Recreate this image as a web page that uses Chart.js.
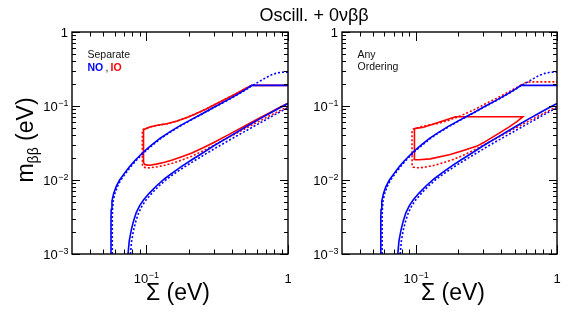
<!DOCTYPE html>
<html>
<head>
<meta charset="utf-8">
<script src="https://cdn.jsdelivr.net/npm/chart.js@4.4.0/dist/chart.umd.min.js"></script>
<style>
  body { margin: 0; background: #fff; width: 582px; height: 315px; position: relative; overflow: hidden; }
  canvas { position: absolute; top: 0; }
  #title { position: absolute; left: 214px; width: 200px; top: 5px; text-align: center;
           font: 18px "Liberation Sans", Arial, sans-serif; line-height: 20px; color: #000; }
</style>
</head>
<body>
<canvas id="left" width="291" height="315" style="left:0"></canvas>
<canvas id="right" width="291" height="315" style="left:291px"></canvas>
<div id="title">Oscill. + 0νββ</div>
<script>
// axis ticks (decades get a label 10^exp)
const xMajor = [0.1, 1];
const xMinor = [0.04, 0.05, 0.06, 0.07, 0.08, 0.09, 0.2, 0.3, 0.4, 0.5, 0.6, 0.7, 0.8, 0.9];
const yMajor = [0.001, 0.01, 0.1, 1];
const yMinor = [0.002, 0.003, 0.004, 0.005, 0.006, 0.007, 0.008, 0.009,
                0.02, 0.03, 0.04, 0.05, 0.06, 0.07, 0.08, 0.09,
                0.2, 0.3, 0.4, 0.5, 0.6, 0.7, 0.8, 0.9];

// NO, upper edge (solid / dotted)
const noUpSigma = [0.0565, 0.0565, 0.0567, 0.0574, 0.059, 0.0615, 0.065, 0.07, 0.076, 0.083, 0.091, 0.1, 0.11, 0.125, 0.145, 0.17, 0.2, 0.25, 0.3, 0.37, 0.45, 0.51, 0.556, 1.0];
const noUpMbb   = [0.001, 0.003, 0.004, 0.0052, 0.0066, 0.0082, 0.01, 0.0122, 0.015, 0.0182, 0.0218, 0.0258, 0.03, 0.0365, 0.044, 0.053, 0.063, 0.079, 0.096, 0.119, 0.147, 0.17, 0.19, 0.19];
const noUpDotSigma = [0.0577, 0.0577, 0.0579, 0.0586, 0.0602, 0.0628, 0.0663, 0.0715, 0.0776, 0.0847, 0.0928, 0.102, 0.112, 0.127, 0.147, 0.172, 0.202, 0.252, 0.3, 0.37, 0.45, 0.51, 0.556, 0.6, 0.65, 0.7, 0.76, 0.82, 0.88, 0.94, 1.0];
const noUpDotMbb   = [0.001, 0.003, 0.004, 0.0052, 0.0066, 0.0082, 0.01, 0.0122, 0.015, 0.0182, 0.0218, 0.0258, 0.03, 0.0365, 0.044, 0.053, 0.063, 0.079, 0.095, 0.118, 0.146, 0.168, 0.188, 0.204, 0.223, 0.242, 0.262, 0.276, 0.284, 0.287, 0.287];

// NO, lower edge (solid / dotted)
const noLoSigma = [0.0745, 0.076, 0.0785, 0.0815, 0.085, 0.09, 0.096, 0.105, 0.118, 0.135, 0.155, 0.18, 0.21, 0.25, 0.3, 0.37, 0.45, 0.55, 0.65, 0.75, 0.87, 1.0];
const noLoMbb   = [0.001, 0.0015, 0.0021, 0.0028, 0.0036, 0.0045, 0.0054, 0.0066, 0.0083, 0.0104, 0.0127, 0.0155, 0.0188, 0.0232, 0.029, 0.0368, 0.046, 0.0575, 0.069, 0.0805, 0.094, 0.108];
const noLoDotSigma = [0.0775, 0.079, 0.0815, 0.0847, 0.0885, 0.0937, 0.1, 0.1095, 0.123, 0.141, 0.162, 0.188, 0.22, 0.26, 0.31, 0.38, 0.46, 0.56, 0.66, 0.76, 0.88, 1.0];
const noLoDotMbb   = [0.001, 0.0015, 0.0021, 0.0028, 0.0036, 0.0045, 0.0054, 0.0066, 0.0083, 0.0104, 0.0126, 0.0152, 0.0183, 0.0222, 0.0272, 0.034, 0.0418, 0.0516, 0.0615, 0.0715, 0.0835, 0.095];

// IO, separate ordering: lower edge back to the corner, up the wall, then upper edge
const ioSigma = [1.0, 0.87, 0.75, 0.65, 0.55, 0.45, 0.37, 0.3, 0.25, 0.21, 0.18, 0.155, 0.135, 0.118, 0.106, 0.1, 0.0975, 0.096, 0.0958, 0.0957, 0.0957, 0.096, 0.0975, 0.1, 0.106, 0.12, 0.14, 0.165, 0.19, 0.22, 0.265, 0.32, 0.37, 0.44, 0.51, 0.556, 1.0];
const ioMbb   = [0.109, 0.0952, 0.082, 0.071, 0.0598, 0.0487, 0.0398, 0.0322, 0.027, 0.0232, 0.0207, 0.0188, 0.0174, 0.0164, 0.0158, 0.016, 0.0163, 0.0172, 0.02, 0.03, 0.044, 0.047, 0.0485, 0.0495, 0.052, 0.0548, 0.0575, 0.0625, 0.069, 0.0775, 0.091, 0.110, 0.126, 0.150, 0.175, 0.19, 0.19];
const ioDotSigma = [1.0, 0.87, 0.75, 0.65, 0.55, 0.45, 0.37, 0.3, 0.25, 0.21, 0.18, 0.155, 0.135, 0.118, 0.106, 0.099, 0.0955, 0.0942, 0.094, 0.094, 0.094, 0.0945, 0.096, 0.0975, 0.1, 0.106, 0.12, 0.14, 0.165, 0.19, 0.22, 0.265, 0.32, 0.37, 0.44, 0.51, 0.556];
const ioDotMbb   = [0.0985, 0.086, 0.0745, 0.0645, 0.0545, 0.0445, 0.0364, 0.0294, 0.0246, 0.021, 0.0187, 0.017, 0.0158, 0.015, 0.0146, 0.0147, 0.015, 0.0158, 0.02, 0.03, 0.044, 0.0475, 0.0488, 0.049, 0.0495, 0.052, 0.0548, 0.0575, 0.0625, 0.069, 0.0775, 0.091, 0.110, 0.126, 0.150, 0.175, 0.192];
const ioDotTailSigma = [0.556, 0.6, 0.65, 1.0];
const ioDotTailMbb   = [0.192, 0.207, 0.212, 0.212];

// IO, any ordering: closed contour
const ioAnySigma = [0.0974, 0.0974, 0.0975, 0.0985, 0.1, 0.1135, 0.1336, 0.157, 0.1905, 0.573, 0.52, 0.45, 0.3767, 0.3, 0.2716, 0.22, 0.1754, 0.1265, 0.105, 0.099, 0.0976, 0.0974];
const ioAnyMbb   = [0.0195, 0.046, 0.0482, 0.0493, 0.0498, 0.0515, 0.0571, 0.0633, 0.0717, 0.0717, 0.0615, 0.051, 0.0413, 0.0318, 0.0287, 0.0252, 0.0221, 0.0193, 0.0188, 0.0188, 0.0190, 0.0195];

const BLUE = '#0000ff', RED = '#ff0000';
const FONT = '"Liberation Sans", Arial, sans-serif';

const pts = (xs, ys) => xs.map((x, i) => ({ x, y: ys[i] }));
const solid = (xs, ys, c, order) => ({ data: pts(xs, ys), borderColor: c, borderWidth: 1.6, showLine: true, order });
const dotted = (xs, ys, c, order) => ({ data: pts(xs, ys), borderColor: c, borderWidth: 1.6, borderDash: [2, 2], showLine: true, order });

// label like 10^-2, or 1 for the zero exponent
function drawPow(ctx, v, x, y, align) {
  const e = Math.round(Math.log10(v));
  const base = e === 0 ? '1' : '10';
  const sup = e === 0 ? '' : '\u2212' + Math.abs(e);
  ctx.font = '13px ' + FONT;
  const wb = ctx.measureText(base).width;
  ctx.font = '9px ' + FONT;
  const ws = ctx.measureText(sup).width;
  const w = wb + ws;
  let x0 = align === 'right' ? x - w : x - w / 2;
  ctx.textAlign = 'left';
  ctx.font = '13px ' + FONT;
  ctx.fillText(base, x0, y);
  ctx.font = '9px ' + FONT;
  ctx.fillText(sup, x0 + wb + 0.5, y - 5.5);
}

const rootAxes = {
  id: 'rootAxes',
  afterDatasetsDraw(chart, args, opts) {
    const { ctx, chartArea: a, scales: { x, y } } = chart;
    ctx.save();
    ctx.strokeStyle = '#000';
    ctx.fillStyle = '#000';
    ctx.lineWidth = 1;
    const line = (x1, y1, x2, y2) => { ctx.beginPath(); ctx.moveTo(x1, y1); ctx.lineTo(x2, y2); ctx.stroke(); };

    xMajor.concat(xMinor).forEach(v => {
      const px = Math.round(x.getPixelForValue(v)) + 0.5;
      const len = xMajor.includes(v) ? 9 : 4.5;
      line(px, a.bottom, px, a.bottom - len);
      line(px, a.top, px, a.top + len);
    });
    yMajor.concat(yMinor).forEach(v => {
      const py = Math.round(y.getPixelForValue(v)) + 0.5;
      const len = yMajor.includes(v) ? 8 : 4;
      line(a.left, py, a.left + len, py);
      line(a.right, py, a.right - len, py);
    });
    ctx.lineWidth = 1.4;
    ctx.strokeRect(a.left, a.top, a.right - a.left, a.bottom - a.top);

    ctx.textBaseline = 'alphabetic';
    xMajor.forEach(v => drawPow(ctx, v, x.getPixelForValue(v), a.bottom + 29, 'center'));
    yMajor.forEach(v => drawPow(ctx, v, a.left - 4, y.getPixelForValue(v) + 5, 'right'));

    // x title
    ctx.font = '23px ' + FONT;
    ctx.textAlign = 'center';
    ctx.fillText('\u03a3 (eV)', opts.xTitleX, 300);

    if (opts.yTitle) {
      ctx.save();
      ctx.translate(33, 140);
      ctx.rotate(-Math.PI / 2);
      ctx.textAlign = 'left';
      ctx.font = '23px ' + FONT;
      const wm = ctx.measureText('m').width;
      ctx.font = '14px ' + FONT;
      const wb = ctx.measureText('\u03b2\u03b2').width;
      ctx.font = '23px ' + FONT;
      const wr = ctx.measureText(' (eV)').width;
      let x0 = -(wm + wb + wr) / 2;
      ctx.fillText('m', x0, 0);
      ctx.font = '14px ' + FONT;
      ctx.fillText('\u03b2\u03b2', x0 + wm, 5);
      ctx.font = '23px ' + FONT;
      ctx.fillText(' (eV)', x0 + wm + wb, 0);
      ctx.restore();
    }

    // panel note
    const tx = a.left + 15.5;
    ctx.textAlign = 'left';
    ctx.font = '10.5px ' + FONT;
    ctx.fillStyle = '#111';
    if (opts.note === 'separate') {
      ctx.fillText('Separate', tx, 58);
      ctx.font = 'bold 10.5px ' + FONT;
      ctx.fillStyle = BLUE;
      ctx.fillText('NO', tx, 70.5);
      ctx.fillStyle = '#111';
      ctx.font = '10.5px ' + FONT;
      ctx.fillText(',', tx + 18, 70.5);
      ctx.font = 'bold 10.5px ' + FONT;
      ctx.fillStyle = RED;
      ctx.fillText('IO', tx + 23, 70.5);
    } else {
      ctx.fillText('Any', tx, 58);
      ctx.fillText('Ordering', tx, 70);
    }
    ctx.restore();
  }
};

function makePanel(id, datasets, padding, opts) {
  return new Chart(document.getElementById(id), {
    type: 'scatter',
    data: { datasets },
    options: {
      responsive: false,
      animation: false,
      layout: { padding },
      elements: { point: { radius: 0 }, line: { tension: 0 } },
      plugins: { legend: { display: false }, tooltip: { enabled: false }, rootAxes: opts },
      scales: {
        x: { type: 'logarithmic', min: 0.03, max: 1, display: false },
        y: { type: 'logarithmic', min: 0.001, max: 1, display: false }
      }
    },
    plugins: [rootAxes]
  });
}

const blueSets = () => [
  solid(noUpSigma, noUpMbb, BLUE, 0),
  solid(noLoSigma, noLoMbb, BLUE, 0),
  dotted(noUpDotSigma, noUpDotMbb, BLUE, 1),
  dotted(noLoDotSigma, noLoDotMbb, BLUE, 1)
];

makePanel('left', [
  ...blueSets(),
  solid(ioSigma, ioMbb, RED, 2),
  dotted(ioDotSigma, ioDotMbb, RED, 3)
], { left: 72, top: 32, right: 3, bottom: 61 }, { note: 'separate', yTitle: true, xTitleX: 178 });

makePanel('right', [
  ...blueSets(),
  solid(ioAnySigma, ioAnyMbb, RED, 2),
  dotted(ioDotSigma, ioDotMbb, RED, 3),
  dotted(ioDotTailSigma, ioDotTailMbb, RED, 3)
], { left: 51, top: 32, right: 25, bottom: 61 }, { note: 'any', yTitle: false, xTitleX: 162 });
</script>
</body>
</html>
